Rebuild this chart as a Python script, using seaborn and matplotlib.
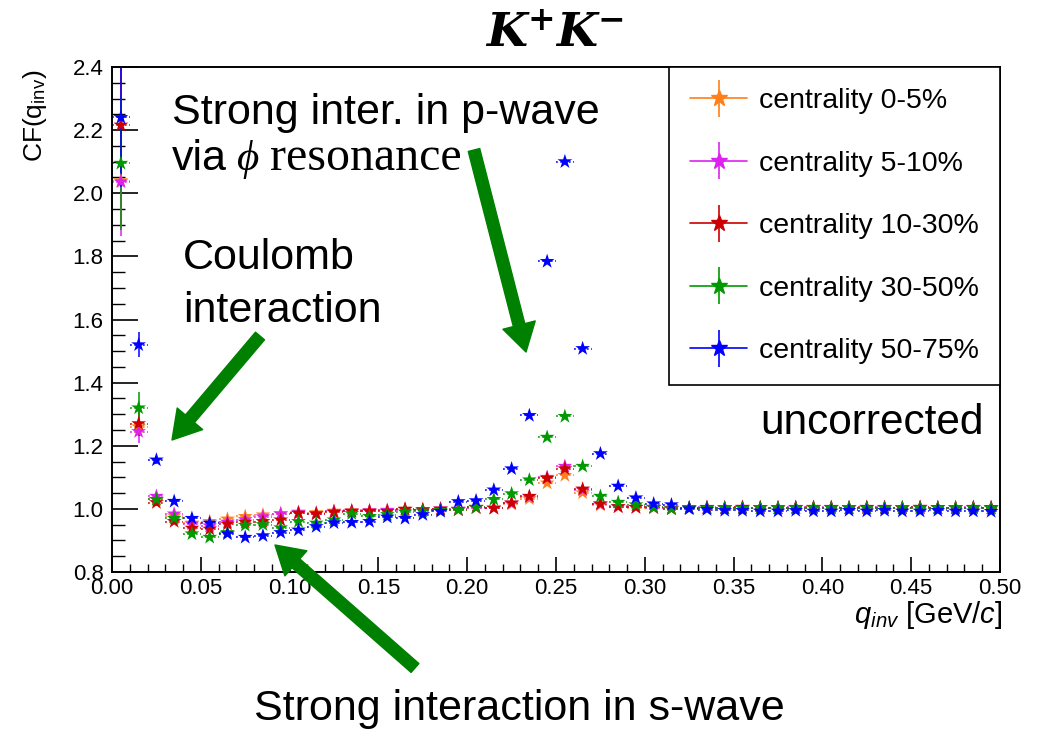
import numpy as np
import pandas as pd
import matplotlib
matplotlib.use("Agg")
import matplotlib.pyplot as plt
import seaborn as sns
from matplotlib.container import ErrorbarContainer
from matplotlib.legend_handler import HandlerErrorbar
from matplotlib.ticker import MultipleLocator, FormatStrFormatter

# ---------------- data ----------------
q_bins = np.round(np.arange(50) * 0.01 + 0.005, 3)

labels = ["centrality 0-5%", "centrality 5-10%", "centrality 10-30%",
          "centrality 30-50%", "centrality 50-75%"]
colors = ["#ff7f1a", "#dd22f0", "#cc0000", "#009900", "#0000ff"]

cf_0_5 = [2.040, 1.260, 1.030, 0.978, 0.955, 0.960, 0.968, 0.976, 0.981, 0.985,
          0.990, 0.988, 0.993, 0.995, 0.995, 0.996, 0.999, 0.998, 1.000, 0.999,
          1.003, 1.002, 1.015, 1.032, 1.082, 1.106, 1.051, 1.012, 1.006, 1.004,
          1.003, 1.002, 1.003, 1.004, 1.003, 1.004, 1.003, 1.003, 1.004, 1.003,
          1.004, 1.003, 1.003, 1.004, 1.003, 1.004, 1.003, 1.003, 1.004, 1.003]
cf_5_10 = [2.036, 1.245, 1.040, 0.984, 0.952, 0.946, 0.958, 0.966, 0.975, 0.984,
           0.988, 0.985, 0.992, 0.993, 0.994, 0.995, 0.998, 0.997, 1.000, 0.999,
           1.004, 1.003, 1.018, 1.038, 1.100, 1.135, 1.060, 1.015, 1.008, 1.005,
           1.004, 1.002, 1.004, 1.005, 1.004, 1.005, 1.004, 1.004, 1.005, 1.004,
           1.005, 1.004, 1.004, 1.005, 1.004, 1.005, 1.004, 1.004, 1.005, 1.004]
cf_10_30 = [2.216, 1.270, 1.020, 0.960, 0.939, 0.936, 0.952, 0.958, 0.960, 0.965,
            0.986, 0.984, 0.989, 0.992, 0.992, 0.992, 0.999, 0.997, 0.999, 0.997,
            1.005, 1.002, 1.019, 1.040, 1.097, 1.127, 1.063, 1.016, 1.007, 1.005,
            1.005, 1.000, 1.003, 1.004, 1.003, 1.005, 1.004, 1.003, 1.004, 1.005,
            1.004, 1.003, 1.005, 1.004, 1.003, 1.005, 1.004, 1.003, 1.004, 1.004]
cf_30_50 = [2.095, 1.320, 1.030, 0.970, 0.921, 0.910, 0.925, 0.948, 0.950, 0.940,
            0.960, 0.955, 0.965, 0.985, 0.976, 0.982, 0.990, 0.993, 0.995, 0.997,
            1.005, 1.030, 1.048, 1.092, 1.227, 1.293, 1.135, 1.040, 1.021, 1.013,
            1.005, 1.000, 1.003, 1.002, 1.003, 1.002, 1.004, 1.003, 1.003, 1.004,
            1.003, 1.004, 1.003, 1.003, 1.004, 1.003, 1.003, 1.004, 1.003, 1.002]
cf_50_75 = [2.240, 1.520, 1.155, 1.024, 0.970, 0.955, 0.921, 0.910, 0.915, 0.925,
            0.933, 0.944, 0.956, 0.957, 0.960, 0.974, 0.970, 0.982, 0.992, 1.023,
            1.026, 1.060, 1.127, 1.296, 1.784, 2.100, 1.508, 1.175, 1.072, 1.035,
            1.016, 1.013, 1.000, 0.998, 0.995, 0.995, 0.993, 0.993, 0.995, 0.993,
            0.993, 0.995, 0.993, 0.995, 0.993, 0.993, 0.995, 0.993, 0.993, 0.992]

# statistical errors of the first three bins; later bins are tiny
err_head = [[0.15, 0.030, 0.010],
            [0.17, 0.035, 0.010],
            [0.18, 0.040, 0.010],
            [0.21, 0.050, 0.015],
            [0.22, 0.040, 0.012]]
err_tail = 0.004
bin_half_width = 0.005

series = [cf_0_5, cf_5_10, cf_10_30, cf_30_50, cf_50_75]

frames = []
for lab, vals, eh in zip(labels, series, err_head):
    err = list(eh) + [err_tail] * (len(vals) - len(eh))
    frames.append(pd.DataFrame({"q": q_bins, "CF": vals, "err": err, "centrality": lab}))
df = pd.concat(frames, ignore_index=True)

# ---------------- style ----------------
sns.set_theme(style="ticks")
plt.rcParams.update({
    "font.family": ["Liberation Sans", "DejaVu Sans"],
    "mathtext.fontset": "custom",
    "mathtext.rm": "Liberation Serif",
    "mathtext.it": "Liberation Serif:italic",
    "mathtext.bf": "DejaVu Serif:bold:italic",
    "mathtext.sf": "Liberation Sans:italic",
    "axes.linewidth": 1.4,
    "axes.edgecolor": "black",
    "text.color": "black",
    "axes.labelcolor": "black",
    "xtick.color": "black",
    "ytick.color": "black",
})

W, H = 1051, 730
fig = plt.figure(figsize=(W / 100, H / 100), dpi=100)
ax = fig.add_axes([112 / W, 1 - 572 / H, (1000 - 112) / W, (572 - 67) / H])

# error bars
for lab, col in zip(labels, colors):
    d = df[df["centrality"] == lab]
    cont = ax.errorbar(d["q"], d["CF"], yerr=d["err"], xerr=bin_half_width,
                       fmt="none", ecolor=col, elinewidth=1.1, zorder=2)
    cont[2][0].set_linestyle((0, (1.2, 1.6)))

# star markers
sns.scatterplot(data=df, x="q", y="CF", hue="centrality", hue_order=labels,
                palette=colors, marker="*", s=125, linewidth=0,
                legend=False, ax=ax, zorder=3)

ax.set_xlim(0, 0.5)
ax.set_ylim(0.8, 2.4)
ax.set_xlabel("")
ax.set_ylabel("")

ax.xaxis.set_major_locator(MultipleLocator(0.05))
ax.xaxis.set_minor_locator(MultipleLocator(0.01))
ax.xaxis.set_major_formatter(FormatStrFormatter("%.2f"))
ax.yaxis.set_major_locator(MultipleLocator(0.2))
ax.yaxis.set_minor_locator(MultipleLocator(0.05))
ax.yaxis.set_major_formatter(FormatStrFormatter("%.1f"))
ax.tick_params(axis="both", which="both", direction="in", top=False, right=False,
               colors="black")
ax.tick_params(axis="x", which="major", length=11, width=1.2, labelsize=16, pad=4)
ax.tick_params(axis="x", which="minor", length=5.5, width=1.0)
ax.tick_params(axis="y", which="major", length=19, width=1.2, labelsize=16, pad=6)
ax.tick_params(axis="y", which="minor", length=9.5, width=1.0)
for sp in ax.spines.values():
    sp.set_visible(True)
    sp.set_color("black")

# legend
handles = []
for lab, col in zip(labels, colors):
    h = ax.errorbar([np.nan], [np.nan], yerr=[1.0], fmt="-*", color=col, ms=12,
                    lw=1.2, elinewidth=1.2, label=lab)
    handles.append(h)
leg = ax.legend(handles, labels, loc="upper right", bbox_to_anchor=(1, 1),
                borderaxespad=0, frameon=True, fancybox=False, edgecolor="black",
                framealpha=1, fontsize=20.5, labelspacing=1.28, handlelength=2.0,
                handletextpad=0.4, borderpad=0.75, numpoints=1,
                handler_map={ErrorbarContainer: HandlerErrorbar(yerr_size=0.65)})
leg.get_frame().set_linewidth(1.2)

# axis titles
fig.text(35 / W, 1 - 70 / H, r"CF(q$_{\mathregular{inv}}$)", rotation=90,
         ha="center", va="top", fontsize=19)
fig.text(1002 / W, 1 - 623 / H, r"$\mathsf{q_{inv}}$ [GeV/$\mathsf{c}$]",
         ha="right", va="baseline", fontsize=21)

# title
fig.text(555 / W, 1 - 47 / H, r"$\mathbf{K^{+}K^{-}}$", ha="center",
         va="baseline", fontsize=34)

# annotations
fs = 31
fig.text(172 / W, 1 - 124 / H, "Strong inter. in p-wave", ha="left", va="baseline", fontsize=fs)
fig.text(172 / W, 1 - 170 / H, "via", ha="left", va="baseline", fontsize=fs)
fig.text(236 / W, 1 - 170 / H, r"$\phi$", ha="left", va="baseline", fontsize=fs)
fig.text(270 / W, 1 - 170 / H, "resonance", ha="left", va="baseline", fontsize=34.5,
         family="Liberation Serif")
fig.text(183 / W, 1 - 269 / H, "Coulomb", ha="left", va="baseline", fontsize=fs)
fig.text(183 / W, 1 - 322 / H, "interaction", ha="left", va="baseline", fontsize=fs)
fig.text(760 / W, 1 - 434 / H, "uncorrected", ha="left", va="baseline", fontsize=30.5)
fig.text(519 / W, 1 - 720 / H, "Strong interaction in s-wave", ha="center", va="baseline", fontsize=fs)

arrow_style = "simple,head_length=20,head_width=24,tail_width=8.5"
for tail, tip in [((474, 150), (526, 352)), ((260, 336), (172, 440)), ((415, 668), (275, 545))]:
    ax.annotate("", xy=(tip[0], H - tip[1]), xytext=(tail[0], H - tail[1]),
                xycoords="figure pixels", textcoords="figure pixels",
                annotation_clip=False,
                arrowprops=dict(arrowstyle=arrow_style, mutation_scale=1,
                                color="#008000", shrinkA=0, shrinkB=0))

fig.savefig("out.png", dpi=100)
